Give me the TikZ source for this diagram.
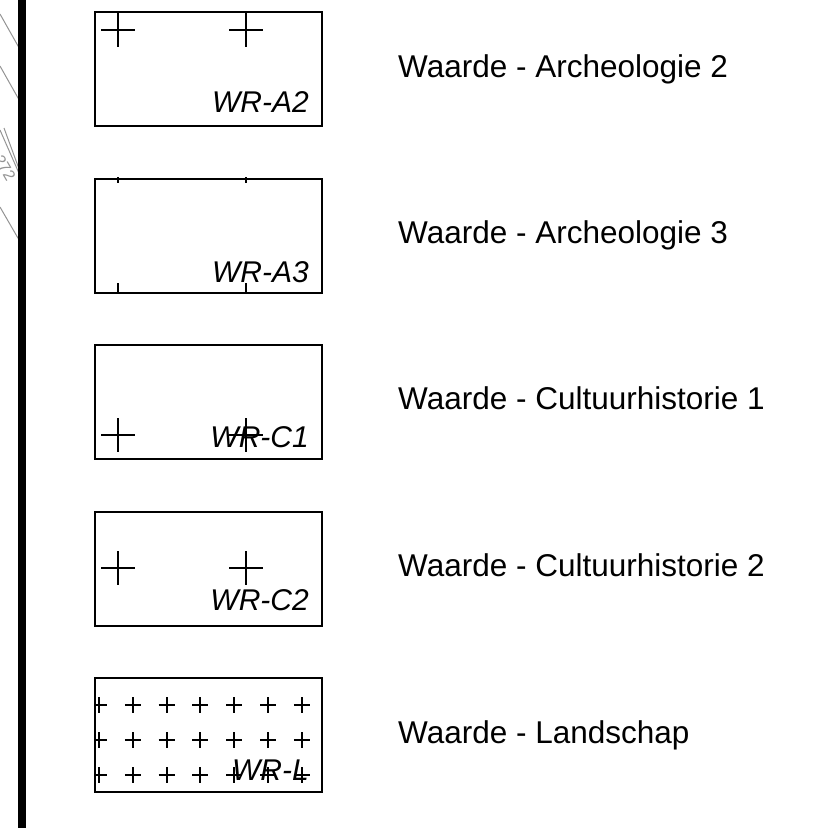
\documentclass[tikz,border=0pt]{standalone}
\usepackage{fontspec}
\setmainfont{Liberation Sans}
\usepackage{tikz}

\newcommand{\kruis}[3]{\draw[crossline] (#1-#3,#2) -- (#1+#3,#2) (#1,#2-#3) -- (#1,#2+#3);}

\begin{document}
\begin{tikzpicture}[x=1pt,y=-1pt,
    legendbox/.style={draw,line width=2pt,minimum width=227pt,minimum height=114pt,inner sep=0pt},
    code/.style={font=\fontsize{30}{30}\selectfont\itshape,anchor=base east,inner sep=0pt},
    legendtext/.style={font=\fontsize{31.5}{32}\selectfont,anchor=base west,inner sep=0pt},
    hatch/.style={draw=black!42,line width=1pt},
    crossline/.style={draw,line width=1.4pt}]

    \useasboundingbox (0,0) rectangle (813,828);

    % perceelgrens links
    \draw[hatch] (0,14) -- (22,53);
    \draw[hatch] (0,66) -- (22,105);
    \draw[hatch] (0,130) -- (22,180);
    \draw[hatch] (4,128) -- (22,177);
    \draw[hatch] (0,207) -- (22,245);
    \draw[hatch] (17,-3) -- (22,5);
    \node[text=black!42,font=\fontsize{16}{16}\selectfont,rotate=-60,inner sep=0pt] (nr) at (5,168) {272};
    \fill (18,0) rectangle (26,828);

    % vlakken
    \node[legendbox] (a2) at (208.5,69)    {};
    \node[legendbox] (a3) at (208.5,235.5) {};
    \node[legendbox] (c1) at (208.5,401.5) {};
    \node[legendbox] (c2) at (208.5,568.5) {};
    \node[legendbox] (l)  at (208.5,734.5) {};

    \begin{scope}
      \clip (a2.south west) rectangle (a2.north east);
      \kruis{118}{30}{17} \kruis{246}{30}{17}
    \end{scope}
    \begin{scope}
      \clip (a3.south west) rectangle (a3.north east);
      \kruis{118}{166}{17} \kruis{246}{166}{17}
      \kruis{118}{300}{17} \kruis{246}{300}{17}
    \end{scope}
    \begin{scope}
      \clip (c1.south west) rectangle (c1.north east);
      \kruis{118}{435}{17} \kruis{246}{435}{17}
    \end{scope}
    \begin{scope}
      \clip (c2.south west) rectangle (c2.north east);
      \kruis{118}{568}{17} \kruis{246}{568}{17}
    \end{scope}
    \begin{scope}[crossline/.append style={line width=1.9pt}]
      \clip (l.south west) rectangle (l.north east);
      \foreach \i in {0,...,6}
        \foreach \j in {705,740,775}
          {\kruis{99+33.8*\i}{\j}{8}}
    \end{scope}

    \node[legendbox] at (a2) {};
    \node[legendbox] at (a3) {};
    \node[legendbox] at (c1) {};
    \node[legendbox] at (c2) {};
    \node[legendbox] at (l)  {};

    \node[code] (a2code) at (309,112) {WR-A2};
    \node[code] (a3code) at (309,282) {WR-A3};
    \node[code] (c1code) at (309,447) {WR-C1};
    \node[code] (c2code) at (309,610) {WR-C2};
    \node[code] (lcode)  at (309,780) {WR-L};

    \node[legendtext] (a2text) at (398,77)  {Waarde - Archeologie 2};
    \node[legendtext] (a3text) at (398,243) {Waarde - Archeologie 3};
    \node[legendtext] (c1text) at (398,409) {Waarde - Cultuurhistorie 1};
    \node[legendtext] (c2text) at (398,576) {Waarde - Cultuurhistorie 2};
    \node[legendtext] (ltext)  at (398,743) {Waarde - Landschap};
  \end{tikzpicture}
\end{document}
